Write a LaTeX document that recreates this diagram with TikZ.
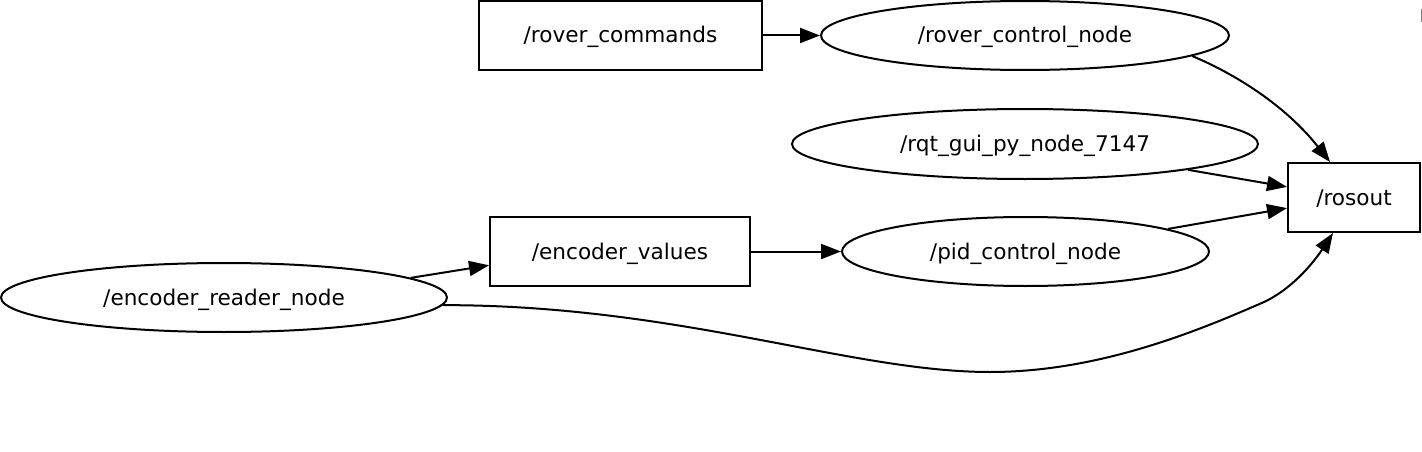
\documentclass[tikz,border=0pt]{standalone}
\usepackage{fontspec}
\setmainfont{DejaVu Sans}
\usetikzlibrary{shapes.geometric,arrows.meta,calc}
\begin{document}
\begin{tikzpicture}[x=1pt,y=-1pt,
  every node/.style={font=\fontsize{21.6}{24}\selectfont, inner sep=0pt, line width=2pt, text height=15pt, text depth=0pt},
  topicbox/.style={draw, rectangle},
  rosnode/.style={draw, ellipse},
  edge/.style={line width=2pt, -{Triangle[length=20pt,width=15pt]}}]
\useasboundingbox (0,0) rectangle (1422,452);
\node[topicbox, minimum width=283pt, minimum height=69pt] (rc) at (620.5,35.5) {/rover\_commands};
\node[rosnode, minimum width=408pt, minimum height=69pt] (rcn) at (1025,35.5) {/rover\_control\_node};
\node[rosnode, minimum width=466pt, minimum height=70pt] (rqt) at (1025,144) {/rqt\_gui\_py\_node\_7147};
\node[topicbox, minimum width=132pt, minimum height=69pt] (rosout) at (1354,197.5) {/rosout};
\node[topicbox, minimum width=260pt, minimum height=69pt] (ev) at (620,251.5) {/encoder\_values};
\node[rosnode, minimum width=367pt, minimum height=69pt] (pid) at (1025.5,251.5) {/pid\_control\_node};
\node[rosnode, minimum width=446pt, minimum height=69pt] (ern) at (224,297.5) {/encoder\_reader\_node};
\coordinate (rtop) at ($(rosout.north)+(-24,0)$);
\coordinate (rbot) at ($(rosout.south)+(-21,0)$);
\draw[edge] (rc.east) -- (rcn.west);
\draw[edge] (rcn.-7.7) .. controls (1235,74) and (1285,105) .. (rtop);
\draw[edge] (rqt.-9) -- (rosout.171);
\draw[edge] (pid.9.5) -- (rosout.189);
\draw[edge] (ev.east) -- (pid.west);
\draw[edge] (ern.6.8) -- (ev.186.4);
\draw[edge] (ern.-2) .. controls (680,305) and (850,372) .. (990,372) .. controls (1100,372) and (1200,330) .. (1264,302) .. controls (1290,290) and (1312,265) .. (rbot);
\draw[gray, line width=1pt] (1421,9) -- (1421,22);
\end{tikzpicture}
\end{document}
